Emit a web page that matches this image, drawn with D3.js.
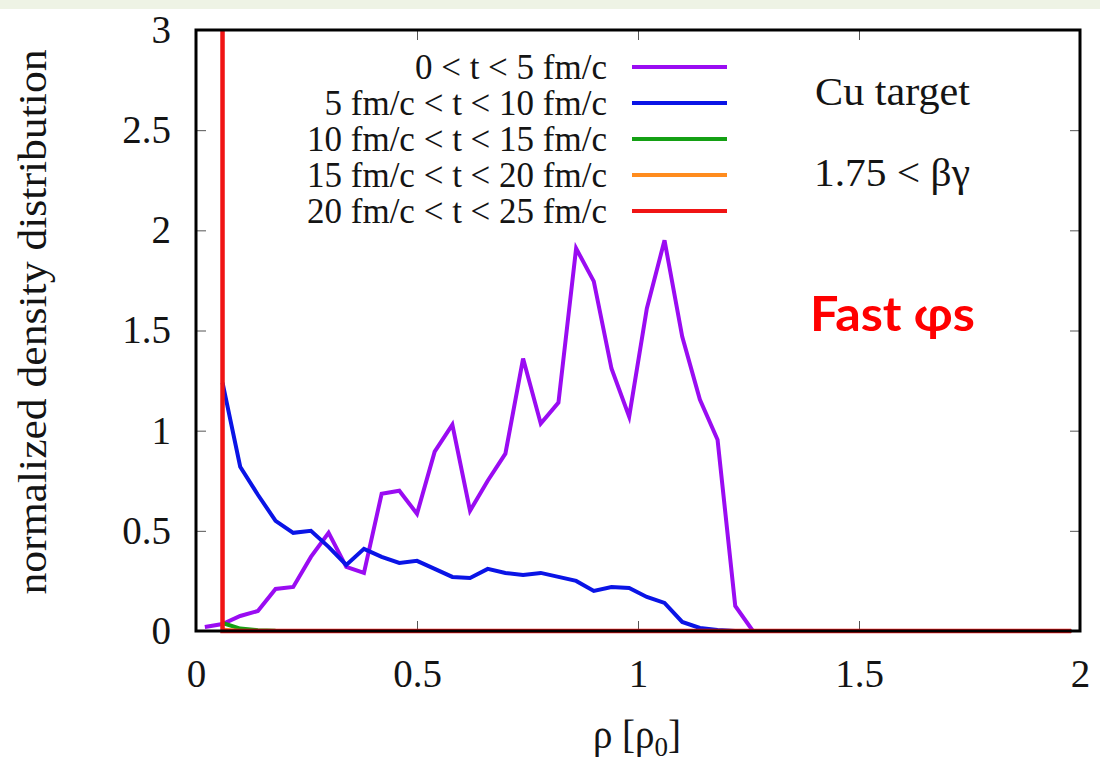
<!DOCTYPE html>
<html>
<head>
<meta charset="utf-8">
<script src="https://cdn.jsdelivr.net/npm/d3@7"></script>
<style>
  body { margin: 0; background: #ffffff; }
  svg { display: block; }
</style>
</head>
<body>
<svg id="chart" width="1100" height="763"></svg>
<script>
// Density bins (rho / rho0); the last entry closes each curve at the end of the axis
const rho = [0.02, 0.06, 0.10, 0.14, 0.18, 0.22, 0.26, 0.30, 0.34, 0.38, 0.42, 0.46,
             0.50, 0.54, 0.58, 0.62, 0.66, 0.70, 0.74, 0.78, 0.82, 0.86, 0.90, 0.94,
             0.98, 1.02, 1.06, 1.10, 1.14, 1.18, 1.22, 1.26, 1.30, 1.98];

// Normalized density distribution for each time window
const t0to5 = [0.02, 0.035, 0.075, 0.10, 0.21, 0.22, 0.37, 0.49, 0.32, 0.29, 0.685, 0.70,
               0.585, 0.895, 1.03, 0.60, 0.75, 0.885, 1.36, 1.035, 1.14, 1.91, 1.745, 1.31,
               1.07, 1.61, 1.95, 1.47, 1.155, 0.955, 0.125, 0.0, 0.0, 0.0];
const t5to10 = [null, 1.24, 0.82, 0.68, 0.55, 0.49, 0.50, 0.42, 0.33, 0.41, 0.37, 0.34,
                0.35, 0.31, 0.27, 0.265, 0.31, 0.29, 0.28, 0.29, 0.27, 0.25, 0.20, 0.22,
                0.215, 0.17, 0.14, 0.045, 0.015, 0.005, 0.0, 0.0, 0.0, 0.0];
const t10to15 = [null, 0.04, 0.012, 0.004, 0.001, 0, 0, 0, 0, 0, 0, 0,
                 0, 0, 0, 0, 0, 0, 0, 0, 0, 0, 0, 0,
                 0, 0, 0, 0, 0, 0, 0, 0, 0, 0];
const t15to20 = [null, 0.006, 0, 0, 0, 0, 0, 0, 0, 0, 0, 0,
                 0, 0, 0, 0, 0, 0, 0, 0, 0, 0, 0, 0,
                 0, 0, 0, 0, 0, 0, 0, 0, 0, 0];
// The late window collapses into the lowest-density bin
const rhoLate = [0.06, 0.06, 1.98];
const t20to25 = [25, 0, 0];

const seriesLabels = ["0 < t < 5 fm/c", "5 fm/c < t < 10 fm/c", "10 fm/c < t < 15 fm/c",
                      "15 fm/c < t < 20 fm/c", "20 fm/c < t < 25 fm/c"];
const seriesColors = ["#9a0cf2", "#0a14e6", "#14a014", "#ff8c1e", "#f01414"];

const xTicks = [0, 0.5, 1, 1.5, 2];
const yTicks = [0, 0.5, 1, 1.5, 2, 2.5, 3];

const series = [
  { xs: rho, ys: t0to5 },
  { xs: rho, ys: t5to10 },
  { xs: rho, ys: t10to15 },
  { xs: rho, ys: t15to20 },
  { xs: rhoLate, ys: t20to25 }
];

const svg = d3.select("#chart");
const W = 1100, H = 763;
const plot = { left: 196, right: 1080, top: 30, bottom: 631 };

const x = d3.scaleLinear().domain([0, 2]).range([plot.left, plot.right]);
const y = d3.scaleLinear().domain([0, 3]).range([plot.bottom, plot.top]);

const serif = "'Liberation Serif', 'Times New Roman', serif";
const ink = "#141414";

// page backdrop
svg.append("rect").attr("width", W).attr("height", H).attr("fill", "#ffffff");
svg.append("rect").attr("width", W).attr("height", 9).attr("fill", "#eef3e5");

// clip so the tall late-time spike stops at the frame
svg.append("defs").append("clipPath").attr("id", "plotClip")
  .append("rect")
  .attr("x", plot.left).attr("y", plot.top)
  .attr("width", plot.right - plot.left)
  .attr("height", plot.bottom - plot.top + 4);

// axes (inward ticks, mirrored on the opposite sides)
const tickStyle = g => {
  g.select(".domain").remove();
  g.selectAll(".tick line").attr("stroke", "#555").attr("stroke-width", 1);
  g.selectAll(".tick text")
    .attr("font-family", serif).attr("font-size", 39).attr("fill", ink);
};

svg.append("g")
  .attr("transform", `translate(0,${plot.bottom})`)
  .call(d3.axisBottom(x).tickValues(xTicks).tickSize(-10).tickPadding(28).tickFormat(d3.format("~g")))
  .call(tickStyle);
svg.append("g")
  .attr("transform", `translate(0,${plot.top})`)
  .call(d3.axisTop(x).tickValues(xTicks).tickSize(-10).tickFormat(""))
  .call(tickStyle);
svg.append("g")
  .attr("transform", `translate(${plot.left},0)`)
  .call(d3.axisLeft(y).tickValues(yTicks).tickSize(-10).tickPadding(25).tickFormat(d3.format("~g")))
  .call(tickStyle);
svg.append("g")
  .attr("transform", `translate(${plot.right},0)`)
  .call(d3.axisRight(y).tickValues(yTicks).tickSize(-10).tickFormat(""))
  .call(tickStyle);

// curves
const line = d3.line()
  .defined(d => d[1] !== null)
  .x(d => x(d[0]))
  .y(d => y(d[1]));

const curves = svg.append("g").attr("clip-path", "url(#plotClip)");
series.forEach((s, i) => {
  const pts = s.xs.map((v, j) => [v, s.ys[j]]);
  curves.append("path")
    .datum(pts)
    .attr("d", line)
    .attr("fill", "none")
    .attr("stroke", seriesColors[i])
    .attr("stroke-width", i === 4 ? 4.5 : 4)
    .attr("stroke-linejoin", "miter");
});

// frame
svg.append("rect")
  .attr("x", plot.left).attr("y", plot.top)
  .attr("width", plot.right - plot.left).attr("height", plot.bottom - plot.top)
  .attr("fill", "none").attr("stroke", "#000").attr("stroke-width", 3);

// legend
const legend = svg.append("g");
seriesLabels.forEach((lab, i) => {
  const cy = 67 + i * 36;
  legend.append("text")
    .attr("x", 607).attr("y", cy)
    .attr("dy", "0.35em")
    .attr("text-anchor", "end")
    .attr("font-family", serif).attr("font-size", 35).attr("fill", ink)
    .text(lab);
  legend.append("line")
    .attr("x1", 632).attr("x2", 727).attr("y1", cy).attr("y2", cy)
    .attr("stroke", seriesColors[i]).attr("stroke-width", 4);
});

// annotations
svg.append("text")
  .attr("x", 815).attr("y", 105)
  .attr("font-family", serif).attr("font-size", 40).attr("fill", ink)
  .attr("textLength", 155).attr("lengthAdjust", "spacingAndGlyphs")
  .text("Cu target");
svg.append("text")
  .attr("x", 814).attr("y", 186)
  .attr("font-family", serif).attr("font-size", 40).attr("fill", ink)
  .attr("textLength", 156).attr("lengthAdjust", "spacingAndGlyphs")
  .text("1.75 < βγ");
svg.append("text")
  .attr("x", 810).attr("y", 331)
  .attr("font-family", "Lato, 'Open Sans', sans-serif").attr("font-weight", "bold")
  .attr("font-size", 48).attr("fill", "#ff0000")
  .attr("textLength", 165).attr("lengthAdjust", "spacingAndGlyphs")
  .text("Fast φs");

// axis titles
svg.append("text")
  .attr("transform", `translate(46,322) rotate(-90)`)
  .attr("text-anchor", "middle")
  .attr("font-family", serif).attr("font-size", 39).attr("fill", ink)
  .attr("textLength", 545).attr("lengthAdjust", "spacingAndGlyphs")
  .text("normalized density distribution");

const xt = svg.append("text")
  .attr("x", 637).attr("y", 748)
  .attr("text-anchor", "middle")
  .attr("font-family", serif).attr("font-size", 39).attr("fill", ink);
xt.append("tspan").text("ρ [ρ");
xt.append("tspan").attr("font-size", 27).attr("dy", 8).text("0");
xt.append("tspan").attr("dy", -8).text("]");
</script>
</body>
</html>
